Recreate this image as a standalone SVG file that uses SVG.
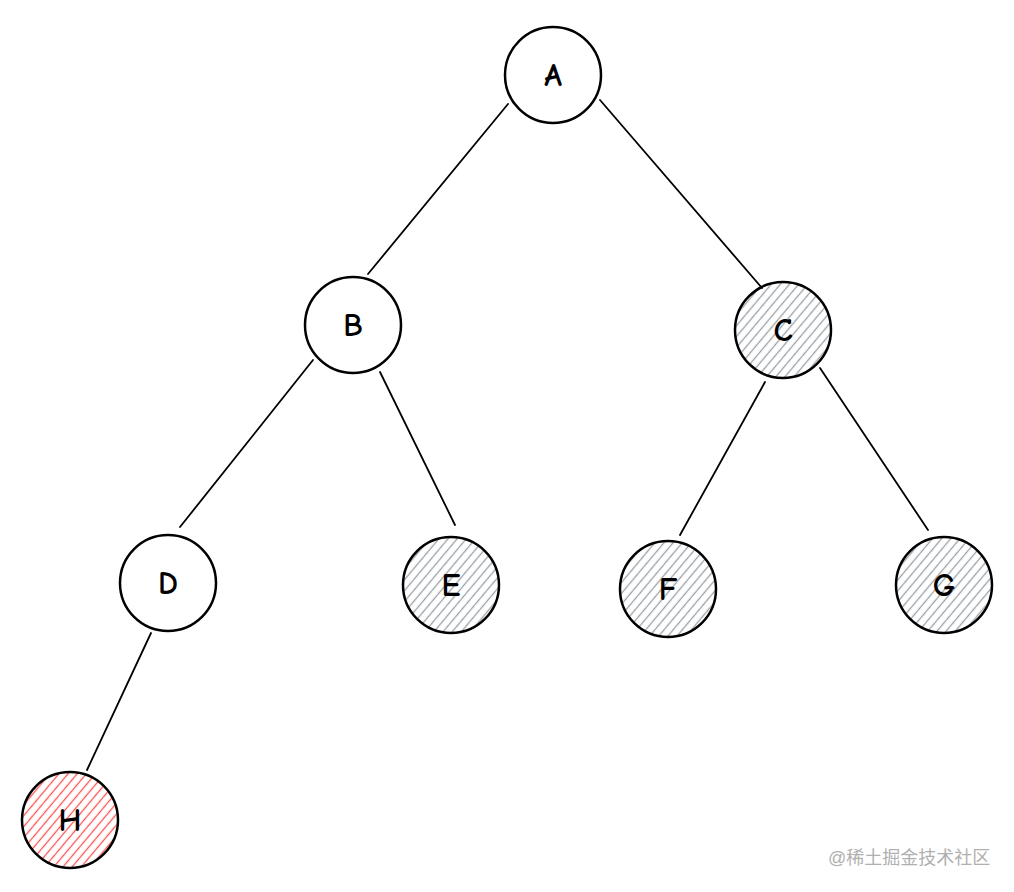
<svg xmlns="http://www.w3.org/2000/svg" width="1014" height="892" viewBox="0 0 1014 892">
<style>
.ring{fill:none;stroke:#000;stroke-width:2.5}
.edge{stroke:#000;stroke-width:1.8;fill:none;stroke-linecap:round}
.lbl{font-family:"Comic Neue","DejaVu Sans",sans-serif;font-size:32px;font-weight:bold;fill:#000;text-anchor:middle;dominant-baseline:central}
.wm{font-family:"Liberation Sans","Noto Sans CJK SC",sans-serif;font-size:18px;fill:#b0b0b0}
</style>
<defs>
<pattern id="hg" patternUnits="userSpaceOnUse" width="7" height="7" patternTransform="rotate(-50)">
<line x1="0" y1="3.5" x2="7" y2="3.5" stroke="#9aa0a6" stroke-width="1.3"/>
</pattern>
<pattern id="hr" patternUnits="userSpaceOnUse" width="7" height="7" patternTransform="rotate(-50)">
<line x1="0" y1="3.5" x2="7" y2="3.5" stroke="#fa5252" stroke-width="1.3"/>
</pattern>
</defs>
<rect width="1014" height="892" fill="#fff"/>
<g id="edges">
<path class="edge" d="M508 104 L368 274"/>
<path class="edge" d="M600 100 L762 288"/>
<path class="edge" d="M313 360 L180 527"/>
<path class="edge" d="M380 372 L455 525"/>
<path class="edge" d="M765 382 L680 535"/>
<path class="edge" d="M820 368 L928 530"/>
<path class="edge" d="M151 633 L87 770"/>
</g>
<g id="node-A"><circle cx="553" cy="75" r="48" fill="#fff"/><circle class="ring" cx="553" cy="75" r="48"/><text class="lbl" x="553" y="75">A</text></g>
<g id="node-B"><circle cx="353" cy="325" r="48" fill="#fff"/><circle class="ring" cx="353" cy="325" r="48"/><text class="lbl" x="353" y="325">B</text></g>
<g id="node-C"><circle cx="783" cy="330" r="48" fill="url(#hg)"/><circle class="ring" cx="783" cy="330" r="48"/><text class="lbl" x="783" y="330">C</text></g>
<g id="node-D"><circle cx="168" cy="583" r="48" fill="#fff"/><circle class="ring" cx="168" cy="583" r="48"/><text class="lbl" x="168" y="583">D</text></g>
<g id="node-E"><circle cx="451" cy="585" r="48" fill="url(#hg)"/><circle class="ring" cx="451" cy="585" r="48"/><text class="lbl" x="451" y="585">E</text></g>
<g id="node-F"><circle cx="668" cy="589" r="48" fill="url(#hg)"/><circle class="ring" cx="668" cy="589" r="48"/><text class="lbl" x="668" y="589">F</text></g>
<g id="node-G"><circle cx="944" cy="585" r="48" fill="url(#hg)"/><circle class="ring" cx="944" cy="585" r="48"/><text class="lbl" x="944" y="585">G</text></g>
<g id="node-H"><circle cx="70" cy="820" r="48" fill="url(#hr)"/><circle class="ring" cx="70" cy="820" r="48"/><text class="lbl" x="70" y="820">H</text></g>
<text class="wm" x="828" y="864">@稀土掘金技术社区</text>
</svg>
